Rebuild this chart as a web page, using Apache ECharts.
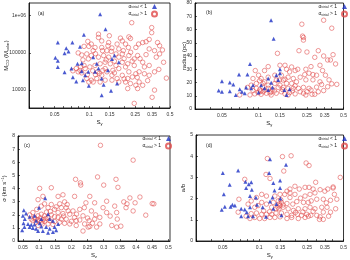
<!DOCTYPE html>
<html>
<head>
<meta charset="utf-8">
<script src="https://cdn.jsdelivr.net/npm/echarts@6/dist/echarts.min.js"></script>
<style>
  html, body { margin: 0; padding: 0; background: #fff; }
  #chart { width: 350px; height: 260px; }
</style>
</head>
<body>
<div id="chart"></div>
<script>
// tick values
const logXTicks = [0.05, 0.1, 0.15, 0.25, 0.35, 0.5]
const logXMinor = [0.03, 0.04, 0.06, 0.07, 0.08, 0.09, 0.2, 0.3, 0.4]
const linXTicks = [0.05, 0.1, 0.15, 0.2, 0.25, 0.3, 0.35, 0.4, 0.45, 0.5]
const massTicks = [1e4, 1e5, 1e6]

// (a) S_y vs M_CO
const aBlue = [[0.124, 1.1e6], [0.138, 4.3e5], [0.0897, 3.07e5], [0.0533, 1.92e5], [0.0713, 1.92e5], [0.0631, 1.33e5],
  [0.066, 1.1e5], [0.061, 9.8e4], [0.0508, 7.4e4], [0.0533, 6.2e4], [0.0533, 4.2e4], [0.061, 3.0e4], [0.070, 3.8e4],
  [0.079, 5.1e4], [0.086, 5.3e4], [0.083, 1.47e5], [0.072, 2.2e4], [0.077, 1.7e4], [0.088, 1.85e4], [0.099, 1.3e4],
  [0.086, 3.2e4], [0.108, 7.7e4], [0.116, 5.1e4], [0.120, 3.8e4], [0.128, 2.05e4], [0.133, 1.4e4], [0.128, 7.3e3],
  [0.154, 9.6e3], [0.157, 6.9e4], [0.165, 8.5e4], [0.174, 1.5e4], [0.18, 5.6e4], [0.145, 3.4e4], [0.112, 3.1e4],
  [0.098, 3.1e4], [0.092, 2.5e4]]
const aRed = [[0.233, 6.5e5], [0.347, 4.8e5], [0.347, 3.5e5], [0.22, 2.7e5], [0.227, 2.45e5], [0.149, 2.9e5], [0.12, 3.2e5],
  [0.12, 2.6e5], [0.097, 2.04e5], [0.099, 1.5e5], [0.09, 1.5e5], [0.08, 1e5], [0.086, 8.8e4], [0.095, 9.4e4], [0.108, 1.15e5],
  [0.112, 1.4e5], [0.128, 1.4e5], [0.145, 1.56e5], [0.157, 1.36e5], [0.174, 1.73e5], [0.186, 2.5e5], [0.193, 2.1e5],
  [0.206, 1.73e5], [0.218, 1.4e5], [0.228, 1.04e5], [0.253, 1.4e5], [0.267, 1.73e5], [0.29, 1.9e5], [0.31, 2.0e5],
  [0.39, 1.9e5], [0.406, 1.56e5], [0.33, 1.28e5], [0.367, 1.15e5], [0.262, 8.5e4], [0.245, 6.9e4], [0.22, 8.5e4],
  [0.193, 9.4e4], [0.18, 7.7e4], [0.17, 9.4e4], [0.147, 7.7e4], [0.133, 8.5e4], [0.12, 7.7e4], [0.104, 8.5e4],
  [0.098, 6.9e4], [0.088, 6.5e4], [0.09, 4.6e4], [0.084, 4.2e4], [0.077, 3.8e4], [0.072, 3.3e4], [0.08, 3.1e4],
  [0.092, 3.8e4], [0.101, 4.2e4], [0.112, 4.6e4], [0.124, 5.1e4], [0.137, 5.6e4], [0.152, 5.1e4], [0.17, 4.6e4],
  [0.193, 5.6e4], [0.215, 5.1e4], [0.245, 4.6e4], [0.29, 5.6e4], [0.33, 4.6e4], [0.44, 5.6e4], [0.38, 7.7e4],
  [0.406, 9.4e4], [0.465, 2.1e4], [0.367, 3.1e4], [0.33, 2.5e4], [0.3, 2.75e4], [0.27, 3.1e4], [0.253, 2.75e4],
  [0.236, 2.25e4], [0.215, 2.05e4], [0.193, 2.5e4], [0.174, 2.05e4], [0.157, 2.5e4], [0.142, 3.1e4], [0.128, 2.5e4],
  [0.116, 2.05e4], [0.104, 1.85e4], [0.095, 2.05e4], [0.099, 1.65e4], [0.108, 1.65e4], [0.124, 1.65e4], [0.137, 1.85e4],
  [0.157, 1.85e4], [0.206, 1.65e4], [0.227, 1.5e4], [0.253, 1.35e4], [0.27, 1.65e4], [0.29, 1.35e4], [0.262, 1.1e4],
  [0.215, 1.1e4], [0.18, 1.65e4], [0.367, 1.0e4], [0.35, 6.4e3], [0.245, 4.4e3], [0.083, 3.4e4], [0.118, 3.1e4],
  [0.137, 3.8e4], [0.16, 3.4e4], [0.18, 3.8e4], [0.206, 4.2e4], [0.3, 4.2e4], [0.22, 3.1e4], [0.128, 2.1e5],
  [0.142, 1.15e5], [0.18, 1.28e5], [0.197, 1.15e5], [0.33, 2.3e5], [0.104, 1.73e5], [0.147, 1.9e5],
  [0.107, 3.3e4], [0.113, 2.6e4], [0.122, 2.8e4], [0.131, 3.4e4], [0.096, 2.6e4], [0.086, 2.9e4], [0.14, 6.5e4],
  [0.165, 6.0e4], [0.2, 7.0e4], [0.235, 6.0e4], [0.275, 7.0e4], [0.31, 9.0e4], [0.26, 2.2e4], [0.32, 1.8e4],
  [0.4, 3.6e4], [0.43, 1.2e5], [0.155, 1.1e5], [0.113, 9.5e4], [0.13, 1.15e5], [0.2, 2.0e4], [0.165, 2.9e4]]

// (b) S_y vs radius (pc)
const bBlue = [[0.1267, 67], [0.133, 53], [0.085, 34], [0.081, 26], [0.069, 26], [0.05, 21], [0.058, 20], [0.062, 18.5],
  [0.047, 14], [0.05, 13], [0.058, 13.4], [0.065, 10.6], [0.070, 14.9], [0.073, 13], [0.079, 16.3], [0.087, 15.6],
  [0.09, 18], [0.1, 12.4], [0.112, 15.6], [0.12, 14.4], [0.13, 16.3], [0.145, 21.8], [0.15, 30], [0.15, 27], [0.14, 25.5],
  [0.127, 19.8], [0.12, 23], [0.163, 14.4], [0.17, 10.6], [0.18, 14.9], [0.105, 18], [0.077, 11.9]]
const bRed = [[0.227, 64], [0.23, 55], [0.234, 54], [0.234, 52], [0.343, 67], [0.4, 61], [0.143, 42], [0.215, 44],
  [0.25, 43], [0.31, 44], [0.343, 40], [0.41, 41], [0.43, 34], [0.37, 37], [0.39, 37], [0.29, 39], [0.245, 30], [0.27, 32],
  [0.32, 33], [0.336, 29], [0.26, 27], [0.3, 25.5], [0.355, 25.5], [0.38, 22], [0.4, 19], [0.44, 18.6], [0.28, 22],
  [0.32, 20.5], [0.245, 22], [0.22, 24], [0.2, 29], [0.18, 28], [0.165, 33], [0.15, 33], [0.17, 30], [0.12, 32],
  [0.112, 29], [0.094, 29], [0.1, 25.5], [0.09, 23], [0.105, 23], [0.12, 24], [0.136, 25.5], [0.154, 25.5], [0.175, 24],
  [0.193, 23], [0.205, 20.5], [0.187, 19.3], [0.17, 19.3], [0.15, 18], [0.136, 19.3], [0.12, 18], [0.109, 19.3],
  [0.096, 19.3], [0.087, 18], [0.081, 16.3], [0.096, 15.6], [0.102, 14.4], [0.109, 13], [0.099, 12.4], [0.105, 11.1],
  [0.116, 11.9], [0.127, 13], [0.14, 11.9], [0.154, 13], [0.165, 11.4], [0.18, 12.4], [0.2, 11.4], [0.22, 13],
  [0.234, 11.9], [0.25, 13], [0.275, 11.1], [0.31, 13], [0.343, 13.9], [0.37, 16.8], [0.26, 15.6], [0.234, 16.3],
  [0.213, 15.6], [0.193, 15.6], [0.175, 15.6], [0.16, 16.3], [0.145, 16.3], [0.13, 14.9], [0.12, 15.6], [0.09, 13.9],
  [0.085, 10.6], [0.07, 10.6], [0.093, 11.4], [0.127, 10.6], [0.175, 10.6], [0.245, 10.6], [0.29, 11.1], [0.148, 21.8],
  [0.16, 21.8], [0.14, 21.8], [0.112, 20.5], [0.102, 21.3], [0.187, 31.7], [0.21, 30],
  [0.104, 13.5], [0.113, 14.2], [0.124, 12.2], [0.135, 13.6], [0.158, 14.6], [0.19, 13.7], [0.27, 14.3], [0.3, 16.5],
  [0.33, 18.5], [0.28, 26], [0.24, 26], [0.2, 17.5], [0.165, 22.5], [0.108, 16.8]]

// (c) S_z vs sigma (km/s)
const cBlue = [[0.119, 3.25], [0.053, 2.34], [0.06, 2.1], [0.05, 1.92], [0.056, 1.67], [0.071, 1.85], [0.086, 1.92],
  [0.091, 1.55], [0.052, 1.35], [0.066, 1.3], [0.076, 1.23], [0.086, 1.26], [0.102, 1.35], [0.055, 1.06], [0.071, 1.06],
  [0.081, 0.99], [0.091, 0.94], [0.107, 1.11], [0.122, 1.06], [0.133, 0.94], [0.148, 1.06], [0.112, 0.76], [0.128, 0.62],
  [0.143, 0.69], [0.097, 0.76], [0.153, 0.81], [0.159, 1.3], [0.143, 1.55], [0.128, 2.04], [0.133, 1.67], [0.107, 1.67],
  [0.1, 2.54], [0.048, 0.81]]
const cRed = [[0.29, 7.29], [0.391, 6.16], [0.102, 4.01], [0.138, 4.06], [0.213, 4.7], [0.228, 4.43], [0.229, 4.26],
  [0.281, 4.88], [0.3, 4.26], [0.338, 4.7], [0.344, 4.09], [0.412, 3.35], [0.397, 2.91], [0.362, 2.98], [0.372, 2.83],
  [0.455, 2.83], [0.43, 1.97], [0.334, 2.66], [0.309, 2.17], [0.34, 2.17], [0.369, 2.54], [0.342, 1.67], [0.34, 1.06],
  [0.325, 1.18], [0.353, 1.13], [0.278, 1.06], [0.257, 1.11], [0.252, 1.06], [0.236, 0.76], [0.215, 1.18], [0.257, 3.4],
  [0.245, 2.91], [0.272, 2.91], [0.262, 2.29], [0.275, 1.99], [0.288, 1.8], [0.272, 1.67], [0.255, 1.55], [0.236, 1.92],
  [0.226, 1.6], [0.21, 1.8], [0.195, 2.04], [0.184, 2.54], [0.179, 2.98], [0.187, 2.78], [0.164, 2.83], [0.169, 2.54],
  [0.174, 2.09], [0.159, 2.17], [0.148, 2.41], [0.138, 2.78], [0.128, 2.54], [0.117, 2.83], [0.107, 2.66], [0.097, 3.15],
  [0.112, 3.4], [0.093, 2.41], [0.081, 2.17], [0.071, 1.99], [0.076, 1.67], [0.086, 1.8], [0.097, 1.92], [0.107, 2.04],
  [0.117, 1.92], [0.128, 1.8], [0.138, 1.99], [0.148, 1.85], [0.159, 1.8], [0.169, 1.67], [0.184, 1.67], [0.2, 1.5],
  [0.215, 1.55], [0.195, 1.3], [0.179, 1.35], [0.164, 1.43], [0.148, 1.48], [0.133, 1.55], [0.117, 1.5], [0.102, 1.55],
  [0.091, 1.43], [0.081, 1.55], [0.11, 1.3], [0.128, 1.3], [0.143, 1.26], [0.097, 1.18], [0.226, 2.41], [0.205, 2.29],
  [0.24, 2.54], [0.309, 3.03], [0.298, 2.54], [0.391, 2.29], [0.288, 1.3], [0.241, 1.3], [0.381, 3.28], [0.159, 3.4],
  [0.174, 3.52], [0.21, 3.4],
  [0.096, 1.62], [0.104, 1.75], [0.113, 1.64], [0.121, 1.72], [0.109, 1.45], [0.088, 1.68], [0.123, 2.2], [0.135, 2.25],
  [0.153, 2.6], [0.176, 1.9], [0.19, 2.3], [0.216, 2.05], [0.25, 1.75], [0.265, 1.35], [0.32, 1.9], [0.45, 2.85]]

// (d) S_y vs a/b
const dBlue = [[0.05, 3.21], [0.067, 3.33], [0.077, 2.8], [0.057, 2.65], [0.051, 2.2], [0.049, 1.47], [0.052, 1.62],
  [0.058, 1.62], [0.06, 1.71], [0.063, 1.67], [0.071, 1.52], [0.076, 1.48], [0.079, 1.36], [0.071, 1.17], [0.081, 1.17],
  [0.089, 1.17], [0.084, 1.59], [0.078, 2.5], [0.082, 2.68], [0.086, 2.77], [0.087, 2.42], [0.084, 2.12], [0.094, 2.05],
  [0.096, 1.71], [0.107, 1.59], [0.114, 1.14], [0.123, 3.86], [0.121, 3.21], [0.131, 2.73], [0.134, 2.38], [0.129, 2.05],
  [0.123, 1.86], [0.131, 1.52], [0.149, 2.85], [0.167, 3.6], [0.149, 2.5], [0.139, 1.74], [0.15, 2.0], [0.153, 1.21]]
const dRed = [[0.117, 3.89], [0.156, 3.98], [0.184, 4.02], [0.16, 3.3], [0.114, 3.14], [0.123, 2.95], [0.076, 2.91],
  [0.245, 3.68], [0.259, 3.56], [0.47, 3.0], [0.37, 2.45], [0.41, 2.5], [0.41, 2.55], [0.294, 2.77], [0.24, 2.53],
  [0.259, 2.53], [0.215, 2.45], [0.198, 2.58], [0.18, 2.45], [0.17, 2.35], [0.163, 2.2], [0.18, 2.05], [0.198, 2.2],
  [0.22, 2.02], [0.24, 2.12], [0.264, 2.2], [0.29, 2.27], [0.32, 2.42], [0.35, 2.35], [0.44, 1.97], [0.39, 1.92],
  [0.34, 1.97], [0.3, 1.97], [0.27, 1.89], [0.255, 1.82], [0.233, 1.82], [0.205, 1.86], [0.19, 1.74], [0.17, 1.77],
  [0.149, 1.67], [0.153, 1.82], [0.144, 1.89], [0.135, 2.12], [0.115, 2.12], [0.105, 2.2], [0.095, 2.05], [0.086, 1.89],
  [0.081, 1.74], [0.068, 1.97], [0.067, 1.36], [0.092, 1.59], [0.098, 1.67], [0.105, 1.82], [0.115, 1.74], [0.127, 1.59],
  [0.138, 1.52], [0.146, 1.52], [0.158, 1.59], [0.174, 1.52], [0.192, 1.44], [0.211, 1.52], [0.24, 1.52], [0.264, 1.59],
  [0.29, 1.52], [0.33, 1.59], [0.365, 1.59], [0.43, 1.52], [0.39, 1.36], [0.34, 1.36], [0.3, 1.21], [0.268, 1.21],
  [0.248, 1.26], [0.225, 1.21], [0.207, 1.26], [0.186, 1.21], [0.17, 1.26], [0.153, 1.32], [0.138, 1.32], [0.127, 1.26],
  [0.115, 1.26], [0.105, 1.26], [0.095, 1.32], [0.086, 1.29], [0.092, 1.11], [0.101, 1.06], [0.111, 1.06], [0.123, 1.11],
  [0.135, 1.11], [0.149, 1.14], [0.17, 1.06], [0.186, 1.11], [0.211, 1.06], [0.24, 1.11], [0.256, 1.17], [0.32, 1.14],
  [0.34, 1.02], [0.376, 1.17], [0.316, 1.02], [0.078, 1.17], [0.084, 1.06], [0.18, 2.27], [0.149, 2.2], [0.131, 1.82],
  [0.147, 1.75], [0.151, 1.95], [0.158, 1.7], [0.143, 1.6], [0.109, 1.42], [0.122, 1.38], [0.2, 1.35], [0.23, 1.37],
  [0.28, 1.4], [0.36, 1.8], [0.42, 2.2], [0.28, 2.45]]

const BLUE = '#1b2fc4'
const RED = '#e04848'
const FONT = 'Liberation Sans'
const LT = 'α_virial < 1'
const GT = 'α_virial > 1'

const lg = v => Math.log10(v)
const logX = pts => pts.map(p => [lg(p[0]), p[1]])
const logXY = pts => pts.map(p => [lg(p[0]), lg(p[1])])
const fmtLog = v => String(+Math.pow(10, v).toPrecision(2))

const chart = echarts.init(document.getElementById('chart'))

const grids = [
  { left: 29, top: 3, width: 141, height: 105 },
  { left: 195, top: 3, width: 151, height: 106 },
  { left: 18, top: 136, width: 152, height: 108 },
  { left: 196, top: 135, width: 150, height: 110 }
].map(g => Object.assign(g, { show: true, borderColor: '#000', borderWidth: 0.8, backgroundColor: 'transparent' }))

const rich = {
  t: { fontSize: 6, fontFamily: FONT, color: '#222' },
  s: { fontSize: 4, fontFamily: FONT, color: '#222', padding: [3, 0, 0, 0] },
  u: { fontSize: 4, fontFamily: FONT, color: '#222', padding: [0, 0, 3, 0] }
}

function baseAxis(extra) {
  return Object.assign({
    type: 'value',
    nameLocation: 'middle',
    nameMoveOverlap: false,
    nameTextStyle: { rich: rich },
    axisLine: { show: true, onZero: false, lineStyle: { color: '#000', width: 0.8 } },
    axisTick: { show: true, inside: true, length: 2, lineStyle: { color: '#000', width: 0.6 } },
    axisLabel: { fontSize: 5, fontFamily: FONT, color: '#333', margin: 3 },
    splitLine: { show: false }
  }, extra)
}

function logXAxis(gridIndex, label) {
  return baseAxis({
    gridIndex: gridIndex,
    min: lg(0.03),
    max: lg(0.5),
    name: label,
    nameGap: 11,
    axisTick: { show: true, inside: true, length: 2, lineStyle: { color: '#000', width: 0.6 },
      customValues: logXTicks.concat(logXMinor).map(lg) },
    axisLabel: { fontSize: 5, fontFamily: FONT, color: '#333', margin: 4,
      customValues: logXTicks.map(lg), formatter: fmtLog }
  })
}

const xAxis = [
  logXAxis(0, '{t|S}{s|y}'),
  logXAxis(1, '{t|S}{s|y}'),
  baseAxis({
    gridIndex: 2, min: 0.035, max: 0.505, name: '{t|S}{s|z}', nameGap: 11,
    axisTick: { show: true, inside: true, length: 2, lineStyle: { color: '#000', width: 0.6 }, customValues: linXTicks },
    axisLabel: { fontSize: 5, fontFamily: FONT, color: '#333', margin: 4, customValues: linXTicks,
      formatter: v => String(+v.toFixed(2)) }
  }),
  logXAxis(3, '{t|S}{s|y}')
]

const yAxis = [
  baseAxis({
    gridIndex: 0, min: lg(3300), max: lg(2.2e6), name: '{t|M}{s|CO}{t| (M}{s|solar}{t|)}', nameGap: 19,
    axisTick: { show: true, inside: true, length: 2, lineStyle: { color: '#000', width: 0.6 }, customValues: massTicks.map(lg) },
    axisLabel: { fontSize: 5, fontFamily: FONT, color: '#333', margin: 3, customValues: massTicks.map(lg),
      formatter: v => Math.round(v) >= 6 ? '1e+06' : String(Math.round(Math.pow(10, v))) }
  }),
  baseAxis({ gridIndex: 1, min: 0, max: 80, interval: 10, name: '{t|radius (pc)}', nameGap: 8 }),
  baseAxis({ gridIndex: 2, min: 0, max: 8, interval: 1, name: '{t|σ (km s}{u|−1}{t|)}', nameGap: 10 }),
  baseAxis({ gridIndex: 3, min: 0, max: 5, interval: 1, name: '{t|a/b}', nameGap: 10 })
]

function pair(i, blue, red) {
  return [
    { name: LT, type: 'scatter', xAxisIndex: i, yAxisIndex: i, data: blue, symbol: 'triangle', symbolSize: 4,
      itemStyle: { color: BLUE }, z: 3 },
    { name: GT, type: 'scatter', xAxisIndex: i, yAxisIndex: i, data: red, symbol: 'circle', symbolSize: 4.5,
      itemStyle: { color: 'rgba(255,255,255,0)', borderColor: RED, borderWidth: 0.7 }, z: 2 }
  ]
}

const series = [].concat(
  pair(0, logXY(aBlue), logXY(aRed)),
  pair(1, logX(bBlue), logX(bRed)),
  pair(2, cBlue, cRed),
  pair(3, logX(dBlue), logX(dRed))
)

const legendRich = {
  t: { fontSize: 5, fontFamily: FONT, color: '#222' },
  s: { fontSize: 3.5, fontFamily: FONT, color: '#222', padding: [2, 0, 0, 0] }
}
function legendAt(right, top) {
  return {
    data: [LT, GT], orient: 'vertical', align: 'right', right: right, top: top,
    itemWidth: 5, itemHeight: 5, itemGap: 1, padding: 0,
    formatter: n => n === LT ? '{t|α}{s|virial}{t| < 1}' : '{t|α}{s|virial}{t| > 1}',
    textStyle: { rich: legendRich }
  }
}

const panelLabels = [['(a)', 38, 11], ['(b)', 206, 10], ['(c)', 24, 143], ['(d)', 206, 143]]

chart.setOption({
  animation: false,
  backgroundColor: '#fff',
  textStyle: { fontFamily: FONT },
  grid: grids,
  xAxis: xAxis,
  yAxis: yAxis,
  legend: [legendAt(192, 4), legendAt(2, 4), legendAt(178, 136), legendAt(2, 136)],
  graphic: panelLabels.map(p => ({
    type: 'text', left: p[1], top: p[2],
    style: { text: p[0], fontSize: 5, fontFamily: FONT, fill: '#222' }
  })),
  series: series
})
</script>
</body>
</html>
